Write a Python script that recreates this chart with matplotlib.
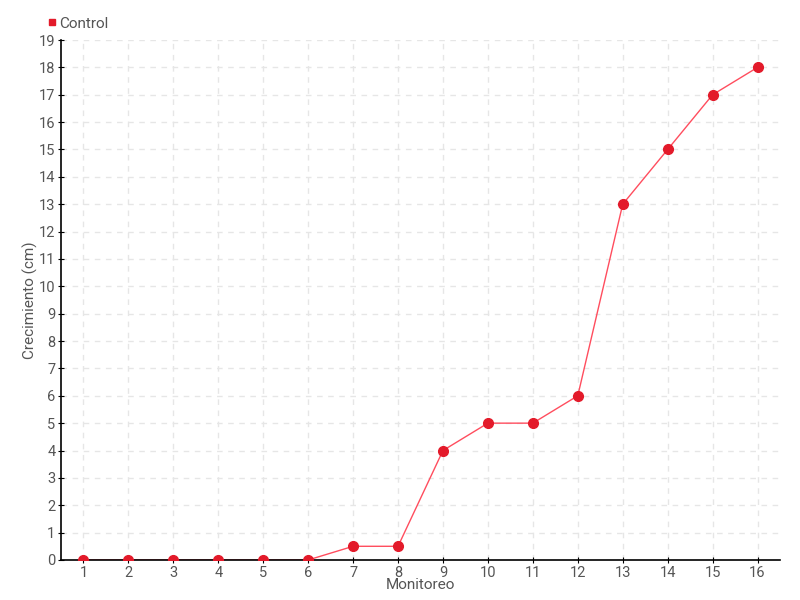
import matplotlib
matplotlib.use('Agg')
import matplotlib.pyplot as plt

# datos
monitoreo = [str(i) for i in range(1, 17)]
control = [0, 0, 0, 0, 0, 0, 0.5, 0.5, 4, 5, 5, 6, 13, 15, 17, 18]

plt.rcParams['font.family'] = ['Roboto', 'DejaVu Sans']
gris = '#555555'

fig = plt.figure(figsize=(8, 6), dpi=100)
ax = fig.add_axes([0.07625, 0.0667, 0.89875, 0.8666])

x = list(range(len(monitoreo)))
ax.plot(x, control, color='#ff4d5e', lw=1, zorder=2)
ax.plot(x, control, 'o', color='#e31a2a', ms=7, zorder=3, label='Control')

ax.set_xlim(-0.5, len(monitoreo) - 0.5)
ax.set_ylim(0, 19)
ax.set_xticks(x)
ax.set_xticklabels(monitoreo)
ax.set_yticks(range(0, 20))

ax.grid(True, color='#e6e6e6', ls=(0, (4, 4)), lw=1)
ax.set_axisbelow(True)
for s in ['top', 'right']:
    ax.spines[s].set_visible(False)
ax.spines['left'].set_linewidth(1.2)
ax.spines['bottom'].set_linewidth(1.2)
ax.tick_params(colors='black', labelcolor=gris, labelsize=10.5, length=4,
               direction='inout', pad=2)

ax.set_xlabel('Monitoreo', color=gris, fontsize=11, labelpad=-1)
ax.set_ylabel('Crecimiento (cm)', color=gris, fontsize=11, labelpad=1)

fig.legend(handles=[plt.Line2D([], [], marker='s', ls='', color='#e31a2a', ms=5)],
           labels=['Control'], loc='upper left', bbox_to_anchor=(0.04, 0.995),
           frameon=False, fontsize=11, handletextpad=0.1, labelcolor=gris, handlelength=0.8)

plt.savefig('out.png', dpi=100)
plt.close()
